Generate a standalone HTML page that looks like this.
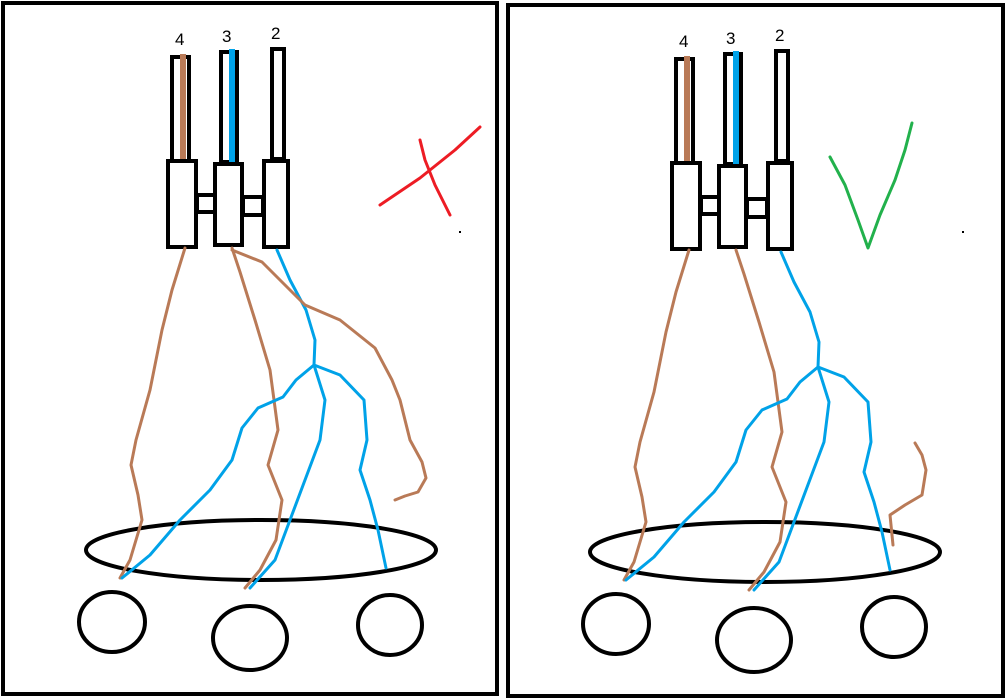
<!DOCTYPE html>
<html><head><meta charset="utf-8"><style>
html,body{margin:0;padding:0;background:#fff;width:1007px;height:700px;overflow:hidden}
text{font-family:"Liberation Sans",sans-serif;font-size:17px;fill:#000}
</style></head><body>
<svg width="1007" height="700" viewBox="0 0 1007 700" xmlns="http://www.w3.org/2000/svg">
<defs>
<g id="block">
  <text x="175" y="45">4</text><text x="222" y="42">3</text><text x="271" y="39">2</text>
  <rect x="172" y="57" width="17" height="104" fill="#fff" stroke="#000" stroke-width="4"/>
  <rect x="221" y="52" width="16" height="110" fill="#fff" stroke="#000" stroke-width="4"/>
  <rect x="272" y="49" width="12" height="110" fill="#fff" stroke="#000" stroke-width="4"/>
  <line x1="183" y1="54" x2="183" y2="164" stroke="#b97a57" stroke-width="6"/>
  <line x1="232" y1="49" x2="232" y2="164" stroke="#00a2e8" stroke-width="6"/>
  <rect x="197" y="195" width="22" height="17" fill="#fff" stroke="#000" stroke-width="4"/>
  <rect x="243" y="197" width="20" height="18" fill="#fff" stroke="#000" stroke-width="4"/>
  <rect x="168" y="161" width="28" height="86" fill="#fff" stroke="#000" stroke-width="4"/>
  <rect x="215" y="164" width="27" height="81" fill="#fff" stroke="#000" stroke-width="4"/>
  <rect x="264" y="161" width="24" height="86" fill="#fff" stroke="#000" stroke-width="4"/>
  <ellipse cx="261" cy="550" rx="175" ry="30" fill="none" stroke="#000" stroke-width="4"/>
  <ellipse cx="112" cy="622" rx="33" ry="30" fill="none" stroke="#000" stroke-width="4"/>
  <ellipse cx="250" cy="638" rx="37" ry="32" fill="none" stroke="#000" stroke-width="4"/>
  <ellipse cx="390" cy="625" rx="32" ry="30" fill="none" stroke="#000" stroke-width="4"/>
  <g fill="none" stroke-width="3" stroke-linejoin="round" stroke-linecap="round">
  <polyline stroke="#b97a57" points="185,248 172,290 162,330 150,390 136,440 131,465 138,495 142,520 130,560 120,578"/>
  <polyline stroke="#b97a57" points="232,248 240,272 255,320 270,370 278,430 268,465 282,500 276,540 260,570 245,588"/>
  <polyline stroke="#00a2e8" points="277,250 290,280 306,310 315,340 314,365 325,400 320,440 305,480 290,520 275,560 250,588"/>
  <polyline stroke="#00a2e8" points="314,365 296,380 283,397 258,408 242,428 232,460 210,490 180,520 150,555 122,578"/>
  <polyline stroke="#00a2e8" points="314,365 340,375 364,400 367,440 360,470 370,500 378,530 386,568"/>
  </g>
</g>
</defs>
<rect x="3" y="3" width="494" height="691" fill="none" stroke="#000" stroke-width="4"/>
<rect x="508" y="5" width="495" height="691" fill="none" stroke="#000" stroke-width="4"/>
<use href="#block"/>
<use href="#block" transform="translate(504,2)"/>
<g fill="none" stroke-width="3" stroke-linejoin="round" stroke-linecap="round">
<polyline stroke="#b97a57" points="232,250 262,262 290,290 305,305 340,320 375,348 392,380 400,400 410,440 422,462 426,478 418,492 405,496 395,500"/>
<polyline stroke="#b97a57" points="893,545 890,515 905,505 922,495 926,470 922,455 915,443"/>
<polyline stroke="#ed1c24" points="380,205 420,178 455,150 480,127"/>
<polyline stroke="#ed1c24" points="420,140 425,160 435,185 450,215"/>
<polyline stroke="#22b14c" points="830,157 845,185 858,220 868,248 880,215 895,180 905,150 912,123"/>
</g>
<rect x="459" y="231" width="2" height="2" fill="#000"/>
<rect x="962" y="231" width="2" height="2" fill="#000"/>
</svg>
</body></html>
